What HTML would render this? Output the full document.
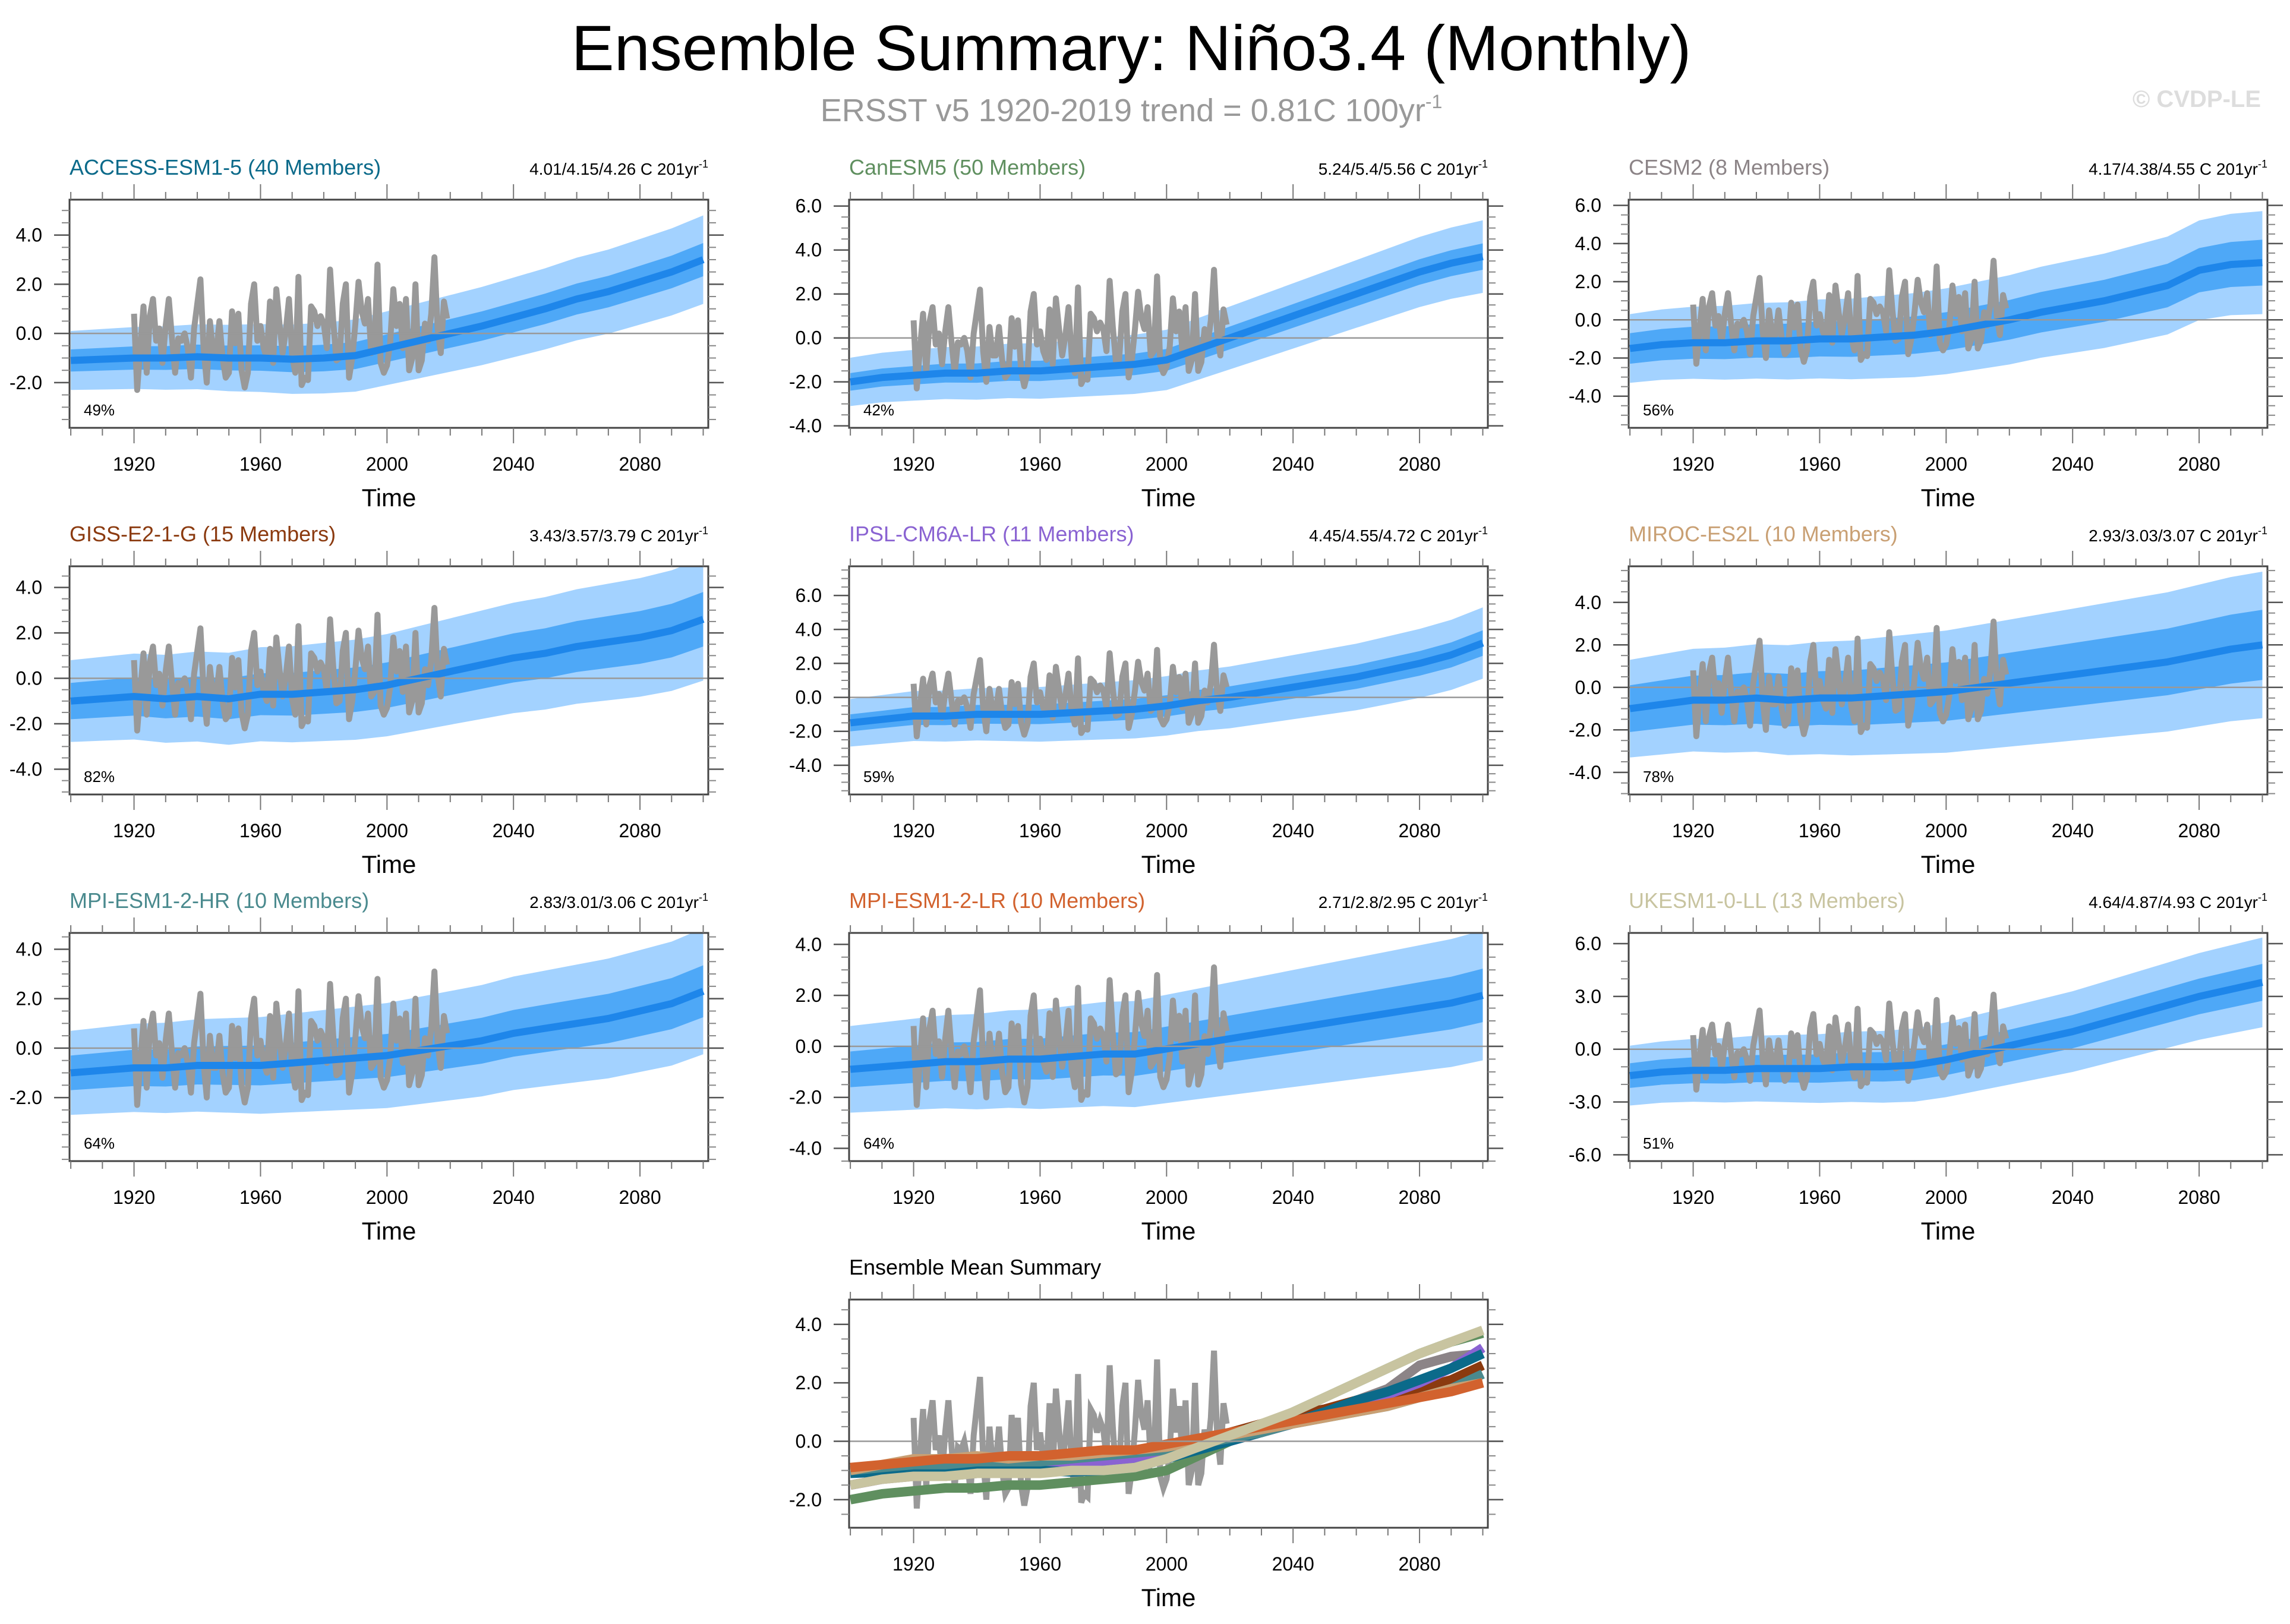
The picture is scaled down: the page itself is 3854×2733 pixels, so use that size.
<!DOCTYPE html>
<html><head><meta charset="utf-8">
<style>
html,body{margin:0;padding:0;background:#fff;}
svg{display:block;font-family:"Liberation Sans",sans-serif;}
</style></head>
<body>
<svg id="fig" width="3854" height="2733" viewBox="0 0 3854 2733" xmlns="http://www.w3.org/2000/svg">
<text x="1904" y="118" font-size="108" text-anchor="middle" fill="#000">Ensemble Summary: Niño3.4 (Monthly)</text>
<text x="1904" y="204" font-size="54" text-anchor="middle" fill="#999">ERSST v5 1920-2019 trend = 0.81C 100yr<tspan dy="-22" font-size="32">-1</tspan></text>
<text x="3805" y="180" font-size="40" text-anchor="end" fill="#ddd" font-weight="bold">© CVDP-LE</text>
</svg>
<script>
// ---- data ----
const decades = [1900,1910,1920,1930,1940,1950,1960,1970,1980,1990,2000,2010,2020,2030,2040,2050,2060,2070,2080,2090,2100];
const obsYears = [];
for (let y = 1920; y <= 2019; y++) obsYears.push(y);
const obsValues = [0.8,-2.3,-0.5,1.1,-1.6,0.7,1.4,-0.3,0.2,-1.2,0.3,1.4,-0.2,-1.6,-0.2,-0.3,0.0,-0.6,-1.8,0.2,1.2,2.2,-0.6,-2.0,0.5,-0.8,-0.8,0.5,-1.0,-1.8,-1.6,0.9,-0.4,0.8,-1.5,-2.2,-1.6,1.2,2.0,-0.3,0.3,-0.6,-1.0,1.3,-1.2,1.8,0.4,-0.8,0.1,1.4,-0.9,-1.6,2.3,-2.1,-1.8,-1.9,1.1,0.9,0.3,0.7,0.4,-0.6,2.6,0.5,-1.1,-1.0,1.2,2.0,-1.8,-1.0,0.4,2.1,0.9,0.4,1.4,-0.8,-0.6,2.8,-1.2,-1.6,-1.3,-0.4,1.8,0.3,1.2,-0.6,1.4,-1.5,-1.0,2.0,-1.5,-1.1,0.4,-0.3,0.8,3.1,0.2,-0.8,1.3,0.6];

const accessMean = [-1.1,-1.05,-1.0,-1.0,-0.95,-1.0,-1.0,-1.05,-1.0,-0.9,-0.6,-0.3,0.0,0.3,0.65,1.0,1.4,1.7,2.1,2.5,3.0];
const canesmMean = [-2.0,-1.8,-1.7,-1.6,-1.6,-1.5,-1.5,-1.4,-1.3,-1.2,-1.0,-0.5,0.0,0.5,1.0,1.5,2.0,2.5,3.0,3.4,3.7];
const cesmMean = [-1.5,-1.3,-1.2,-1.2,-1.1,-1.1,-1.0,-1.0,-0.9,-0.8,-0.6,-0.3,0.0,0.4,0.7,1.0,1.4,1.8,2.6,2.9,3.0];
const gissMean = [-1.0,-0.9,-0.8,-0.9,-0.8,-0.9,-0.7,-0.7,-0.6,-0.5,-0.3,0.0,0.3,0.6,0.9,1.1,1.4,1.6,1.8,2.1,2.6];
const ipslMean = [-1.5,-1.3,-1.1,-1.1,-1.0,-1.0,-1.0,-0.9,-0.8,-0.7,-0.5,-0.2,0.0,0.3,0.6,0.9,1.2,1.6,2.0,2.5,3.2];
const mirocMean = [-1.0,-0.8,-0.6,-0.6,-0.5,-0.6,-0.5,-0.5,-0.4,-0.3,-0.2,0.0,0.2,0.4,0.6,0.8,1.0,1.2,1.5,1.8,2.0];
const mpihrMean = [-1.0,-0.9,-0.8,-0.8,-0.7,-0.7,-0.7,-0.6,-0.5,-0.4,-0.3,-0.1,0.1,0.3,0.6,0.8,1.0,1.2,1.5,1.8,2.3];
const mpilrMean = [-0.9,-0.8,-0.7,-0.6,-0.6,-0.5,-0.5,-0.4,-0.3,-0.3,-0.1,0.1,0.3,0.5,0.7,0.9,1.1,1.3,1.5,1.7,2.0];
const ukesmMean = [-1.5,-1.3,-1.2,-1.2,-1.1,-1.1,-1.1,-1.0,-1.0,-0.9,-0.6,-0.2,0.2,0.6,1.0,1.5,2.0,2.5,3.0,3.4,3.8];

const spreadOuter = [1.2,1.1,1.8,1.8,1.4,2.3,1.7,1.7,1.7];
const spreadInner = [0.45,0.4,0.8,0.8,0.5,1.1,0.7,0.7,0.7];

const modelNames = ["ACCESS-ESM1-5 (40 Members)","CanESM5 (50 Members)","CESM2 (8 Members)","GISS-E2-1-G (15 Members)","IPSL-CM6A-LR (11 Members)","MIROC-ES2L (10 Members)","MPI-ESM1-2-HR (10 Members)","MPI-ESM1-2-LR (10 Members)","UKESM1-0-LL (13 Members)"];
const trendLabels = ["4.01/4.15/4.26 C 201yr","5.24/5.4/5.56 C 201yr","4.17/4.38/4.55 C 201yr","3.43/3.57/3.79 C 201yr","4.45/4.55/4.72 C 201yr","2.93/3.03/3.07 C 201yr","2.83/3.01/3.06 C 201yr","2.71/2.8/2.95 C 201yr","4.64/4.87/4.93 C 201yr"];
const pctLabels = ["49%","42%","56%","82%","59%","78%","64%","64%","51%"];
const yRanges = [[-3.84,5.44],[-4.09,6.29],[-5.66,6.3],[-5.11,4.93],[-5.72,7.72],[-5.04,5.7],[-4.57,4.66],[-4.5,4.45],[-6.36,6.61],[-2.96,4.85]];
const yTickLabels = [["-2.0","0.0","2.0","4.0"],["-4.0","-2.0","0.0","2.0","4.0","6.0"],["-4.0","-2.0","0.0","2.0","4.0","6.0"],["-4.0","-2.0","0.0","2.0","4.0"],["-4.0","-2.0","0.0","2.0","4.0","6.0"],["-4.0","-2.0","0.0","2.0","4.0"],["-2.0","0.0","2.0","4.0"],["-4.0","-2.0","0.0","2.0","4.0"],["-6.0","-3.0","0.0","3.0","6.0"],["-2.0","0.0","2.0","4.0"]];
const yMinorSteps = [0.5,0.5,0.5,0.5,0.5,0.5,0.5,0.5,1.0,0.5];
const xTickLabels = ["1920","1960","2000","2040","2080"];
const modelColors = ["#0b6a8a","#5f8f5f","#8c8487","#8b3a0f","#8a63d2","#c9a074","#4a8a8e","#d2622e","#c8c4a0"];
const modelMeans = [accessMean,canesmMean,cesmMean,gissMean,ipslMean,mirocMean,mpihrMean,mpilrMean,ukesmMean];

// ---- drawing ----
const NS = "http://www.w3.org/2000/svg";
const svg = document.getElementById("fig");
const BW = 1075, BH = 384;
const colX = [117, 1429, 2741];
const rowY = [336, 953, 1570, 2187];
function mk(tag, attrs, parent) {
  const e = document.createElementNS(NS, tag);
  for (const k in attrs) e.setAttribute(k, attrs[k]);
  (parent || svg).appendChild(e);
  return e;
}
function panel(idx, L, T) {
  const g = mk("g", {});
  
  
  const [ymin, ymax] = yRanges[idx];
  const xs = yr => L + (yr - 1899.6) / (2101.6 - 1899.6) * BW;
  const ys = v => T + (ymax - v) / (ymax - ymin) * BH;
  const clipId = "clip" + idx;
  const cp = mk("clipPath", {id: clipId}, g);
  mk("rect", {x: L, y: T, width: BW, height: BH}, cp);
  const inner = mk("g", {"clip-path": "url(#" + clipId + ")"}, g);
  const zl = mk("line", {x1: L, x2: L + BW + 26, y1: ys(0), y2: ys(0), stroke: "#999", "stroke-width": 2.5}, g);
  
  
  function bandPath(mean, half) {
    let up = "", dn = "";
    decades.forEach((d, i) => { up += (i ? "L" : "M") + xs(d) + "," + ys(mean[i] + half * (1 + i / 40)); });
    for (let i = decades.length - 1; i >= 0; i--) dn += "L" + xs(decades[i]) + "," + ys(mean[i] - half * (1 + i / 40));
    return up + dn + "Z";
  }
  function linePath(xsArr, vals) {
    return vals.map((v, i) => (i ? "L" : "M") + xs(xsArr[i]) + "," + ys(v)).join("");
  }
  if (idx < 9) {
    const m = modelMeans[idx];
    const b1 = mk("path", {d: bandPath(m, spreadOuter[idx]), fill: "#a3d2ff"}, inner);
    
    
    const b2 = mk("path", {d: bandPath(m, spreadInner[idx]), fill: "#4ea8f7"}, inner);
    
    
    const obs = mk("path", {d: linePath(obsYears, obsValues), fill: "none", stroke: "#999", "stroke-width": 10, "stroke-linejoin": "round"}, inner);
    
    
    const ml = mk("path", {d: linePath(decades, m), fill: "none", stroke: "#1e86ea", "stroke-width": 12, "stroke-linejoin": "round"}, inner);
    
    
  } else {
    const obs = mk("path", {d: linePath(obsYears, obsValues), fill: "none", stroke: "#999", "stroke-width": 10}, inner);
    
    
    [2,1,3,4,0,6,5,7,8].forEach(k => {
      const ln = mk("path", {d: linePath(decades, modelMeans[k]), fill: "none", stroke: modelColors[k], "stroke-width": 16, "stroke-linejoin": "round"}, inner);
      
      
    });
  }
  const fr = mk("rect", {x: L, y: T, width: BW, height: BH, fill: "none", stroke: "#444", "stroke-width": 3}, g);
  
  
  for (let yr = 1900; yr <= 2100; yr += 10) {
    const maj = (yr - 1920) % 40 === 0;
    const len = maj ? 26 : 13;
    const x = xs(yr);
    mk("line", {x1: x, x2: x, y1: T, y2: T - len, stroke: "#777", "stroke-width": 2}, g);
    mk("line", {x1: x, x2: x, y1: T + BH, y2: T + BH + len, stroke: "#777", "stroke-width": 2}, g);
  }
  xTickLabels.forEach(lab => {
    const t = mk("text", {x: xs(+lab), y: T + 456, "font-size": 32, "text-anchor": "middle", fill: "#000"}, g);
    t.textContent = lab;
    
    
  });
  const step = yMinorSteps[idx];
  for (let v = Math.ceil(ymin / step) * step; v <= ymax + 1e-9; v += step) {
    const y = ys(v);
    mk("line", {x1: L, x2: L - 13, y1: y, y2: y, stroke: "#888", "stroke-width": 2}, g);
    mk("line", {x1: L + BW, x2: L + BW + 13, y1: y, y2: y, stroke: "#888", "stroke-width": 2}, g);
  }
  yTickLabels[idx].forEach(lab => {
    const y = ys(parseFloat(lab));
    mk("line", {x1: L, x2: L - 26, y1: y, y2: y, stroke: "#555", "stroke-width": 2.5}, g);
    mk("line", {x1: L + BW, x2: L + BW + 26, y1: y, y2: y, stroke: "#555", "stroke-width": 2.5}, g);
    const t = mk("text", {x: L - 46, y: y + 11, "font-size": 32, "text-anchor": "end", fill: "#000"}, g);
    t.textContent = lab;
    
    
  });
  const xt = mk("text", {x: L + BW / 2, y: T + 516, "font-size": 42, "text-anchor": "middle", fill: "#000"}, g);
  xt.textContent = "Time";
  
  
  const tt = mk("text", {x: L, y: T - 42, "font-size": 36, fill: idx < 9 ? modelColors[idx] : "#000"}, g);
  tt.textContent = idx < 9 ? modelNames[idx] : "Ensemble Mean Summary";
  
  
  if (idx < 9) {
    const st = mk("text", {x: L + BW, y: T - 42, "font-size": 28, "text-anchor": "end", fill: "#000"}, g);
    st.textContent = trendLabels[idx];
    const sup = mk("tspan", {dy: -12, "font-size": 18}, st);
    sup.textContent = "-1";
    
    
    const pt = mk("text", {x: L + 24, y: T + 363, "font-size": 26, fill: "#000"}, g);
    pt.textContent = pctLabels[idx];
    
    
  }
}
for (let i = 0; i < 9; i++) panel(i, colX[i % 3], rowY[Math.floor(i / 3)]);
panel(9, colX[1], rowY[3]);
</script>
</body></html>
